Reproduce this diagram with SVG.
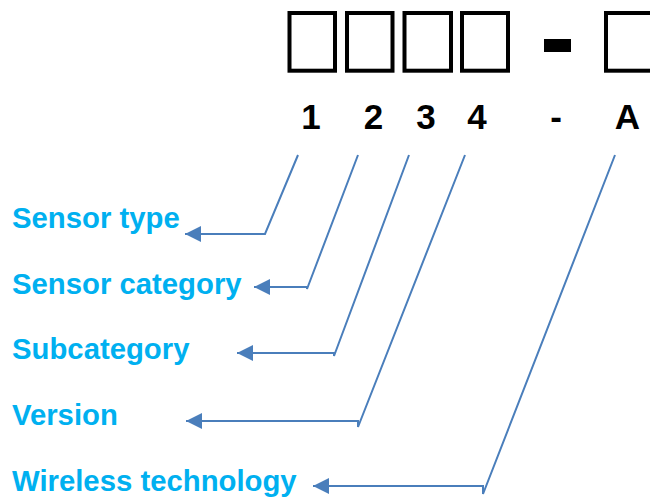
<svg xmlns="http://www.w3.org/2000/svg" width="650" height="498" viewBox="0 0 650 498">
  <style>
    .box { fill: none; stroke: #000; stroke-width: 4; }
    .digit { font-family: "Liberation Sans", Arial, sans-serif; font-weight: bold; font-size: 35px; fill: #000; text-anchor: middle; }
    .label { font-family: "Liberation Sans", Arial, sans-serif; font-weight: bold; font-size: 29.3px; fill: #00b0f0; }
    .conn { fill: none; stroke: #4a7ebb; stroke-width: 2; stroke-linejoin: miter; }
  </style>
  <defs>
    <marker id="arrow" markerUnits="userSpaceOnUse" markerWidth="18" markerHeight="16" refX="16" refY="8" orient="auto">
      <path d="M0,0 L16,8 L0,16 Z" fill="#4a7ebb"/>
    </marker>
  </defs>
  <rect width="650" height="498" fill="#fff"/>

  <g id="code">
    <rect class="box" x="289.5" y="13" width="45.5" height="57.7"/>
    <rect class="box" x="347" y="13" width="45.5" height="57.7"/>
    <rect class="box" x="404.5" y="13" width="46.5" height="57.7"/>
    <rect class="box" x="462" y="13" width="46" height="57.7"/>
    <rect x="544" y="39" width="27" height="13" fill="#000"/>
    <rect class="box" x="606" y="13" width="60" height="57.7"/>
  </g>

  <g id="digits">
    <text class="digit" x="311" y="129">1</text>
    <text class="digit" x="373.5" y="129">2</text>
    <text class="digit" x="426" y="129">3</text>
    <text class="digit" x="477" y="129">4</text>
    <text class="digit" x="556" y="129">-</text>
    <text class="digit" x="627.5" y="129">A</text>
  </g>

  <g id="connectors">
    <polyline class="conn" points="298,155 265,234 185,234" marker-end="url(#arrow)"/>
    <polyline class="conn" points="358,155 307,289 307,287 254,287" marker-end="url(#arrow)"/>
    <polyline class="conn" points="409,155 334,356 334,353 237,353" marker-end="url(#arrow)"/>
    <polyline class="conn" points="465,155 358,427 358,421 186,421" marker-end="url(#arrow)"/>
    <polyline class="conn" points="615,155 483,494 483,486 313,486" marker-end="url(#arrow)"/>
  </g>

  <g id="label-sensor-type"><text class="label" x="12" y="228">Sensor type</text></g>
  <g id="label-sensor-category"><text class="label" x="12" y="294">Sensor category</text></g>
  <g id="label-subcategory"><text class="label" x="12" y="359">Subcategory</text></g>
  <g id="label-version"><text class="label" x="12" y="425">Version</text></g>
  <g id="label-wireless"><text class="label" x="12" y="491">Wireless technology</text></g>
</svg>
